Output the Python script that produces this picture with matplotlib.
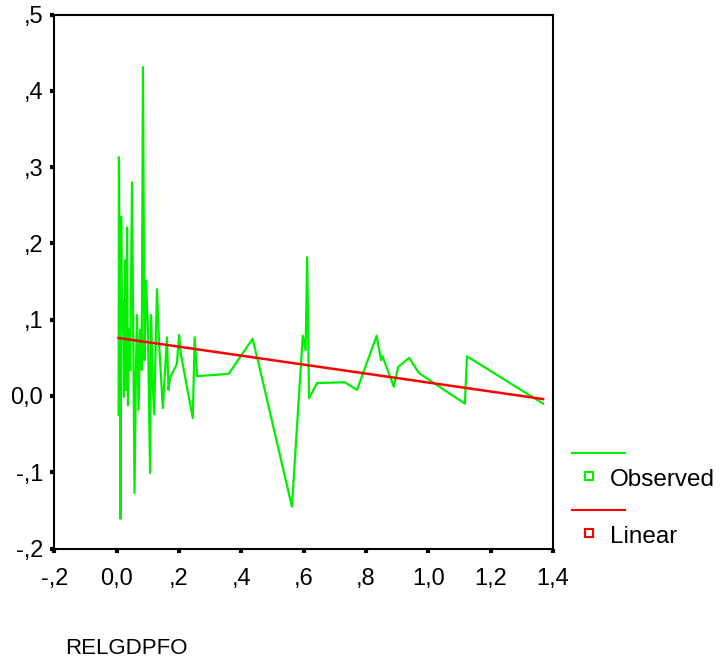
import numpy as np
import matplotlib
matplotlib.use("Agg")
import matplotlib.pyplot as plt
from matplotlib.lines import Line2D
from matplotlib.ticker import FuncFormatter

plt.rcParams['font.family'] = ['Liberation Sans', 'DejaVu Sans']

# observed RELGDPFO vs. response
obs_x = [0.006, 0.007, 0.011, 0.012, 0.014, 0.017, 0.020, 0.023, 0.027, 0.030,
         0.033, 0.036, 0.040, 0.043, 0.049, 0.057, 0.062, 0.065, 0.070, 0.075,
         0.080, 0.084, 0.089, 0.094, 0.100, 0.107, 0.110, 0.115, 0.120, 0.129,
         0.136, 0.148, 0.161, 0.166, 0.171, 0.193, 0.200, 0.206, 0.244, 0.250,
         0.258, 0.359, 0.436, 0.463, 0.562, 0.597, 0.606, 0.611, 0.617, 0.643,
         0.732, 0.771, 0.834, 0.848, 0.853, 0.889, 0.903, 0.938, 0.970, 1.117,
         1.124, 1.368]
obs_y = [-0.025, 0.313, 0.021, -0.161, 0.235, 0.087, 0.126, -0.001, 0.178, 0.008,
         0.221, -0.012, 0.087, 0.034, 0.280, -0.127, 0.047, 0.106, -0.018, 0.087,
         0.034, 0.431, 0.047, 0.151, 0.087, -0.101, 0.106, 0.021, -0.024, 0.140,
         0.067, -0.016, 0.077, 0.008, 0.024, 0.042, 0.080, 0.054, -0.029, 0.077,
         0.026, 0.029, 0.075, 0.029, -0.145, 0.079, 0.060, 0.182, -0.003, 0.017,
         0.018, 0.008, 0.079, 0.047, 0.052, 0.012, 0.038, 0.050, 0.030, -0.010,
         0.052, -0.010]

# fitted linear line, endpoints
lin_x = [0.006, 1.368]
lin_y = [0.076, -0.004]

x_ticks = [-0.2, 0.0, 0.2, 0.4, 0.6, 0.8, 1.0, 1.2, 1.4]
y_ticks = [-0.2, -0.1, 0.0, 0.1, 0.2, 0.3, 0.4, 0.5]

green = '#00f000'
red = '#ff0000'


def spss_fmt(v, pos=None):
    s = '%.1f' % v
    if s in ('0.0', '-0.0'):
        return '0,0'
    s = s.replace('.', ',')
    if s.startswith('0,'):
        s = s[1:]
    elif s.startswith('-0,'):
        s = '-' + s[2:]
    return s


fig = plt.figure(figsize=(7.2, 6.66), dpi=100)
ax = fig.add_axes([0.0756, 0.1763, 0.6925, 0.8019])

ax.plot(obs_x, obs_y, color=green, lw=1.6, zorder=2)
ax.plot(lin_x, lin_y, color=red, lw=1.8, zorder=3)

ax.set_xlim(-0.2, 1.4)
ax.set_ylim(-0.2, 0.5)
ax.set_xticks(x_ticks)
ax.set_yticks(y_ticks)
ax.xaxis.set_major_formatter(FuncFormatter(spss_fmt))
ax.yaxis.set_major_formatter(FuncFormatter(spss_fmt))
ax.tick_params(direction='out', length=3, width=3, labelsize=17)
ax.tick_params(axis='x', pad=11)
ax.tick_params(axis='y', pad=5)
for sp in ax.spines.values():
    sp.set_linewidth(1.5)

# legend drawn by hand, SPSS style
def leg_entry(y_line, y_mark, color, label):
    fig.add_artist(Line2D([572 / 720, 625 / 720], [1 - y_line / 666] * 2,
                          transform=fig.transFigure, color=color, lw=1.5))
    fig.add_artist(Line2D([589 / 720], [1 - y_mark / 666], transform=fig.transFigure,
                          marker='s', markersize=6, markerfacecolor='white',
                          markeredgecolor=color, markeredgewidth=1.5, lw=0))
    fig.text(610 / 720, 1 - (y_mark + 4) / 666, label, fontsize=17.5, va='center')

leg_entry(453, 476, green, 'Observed')
leg_entry(510, 533, red, 'Linear')

fig.text(65 / 720, 1 - 648 / 666, 'RELGDPFO', fontsize=16, va='center')

fig.savefig('out.png', dpi=100)
